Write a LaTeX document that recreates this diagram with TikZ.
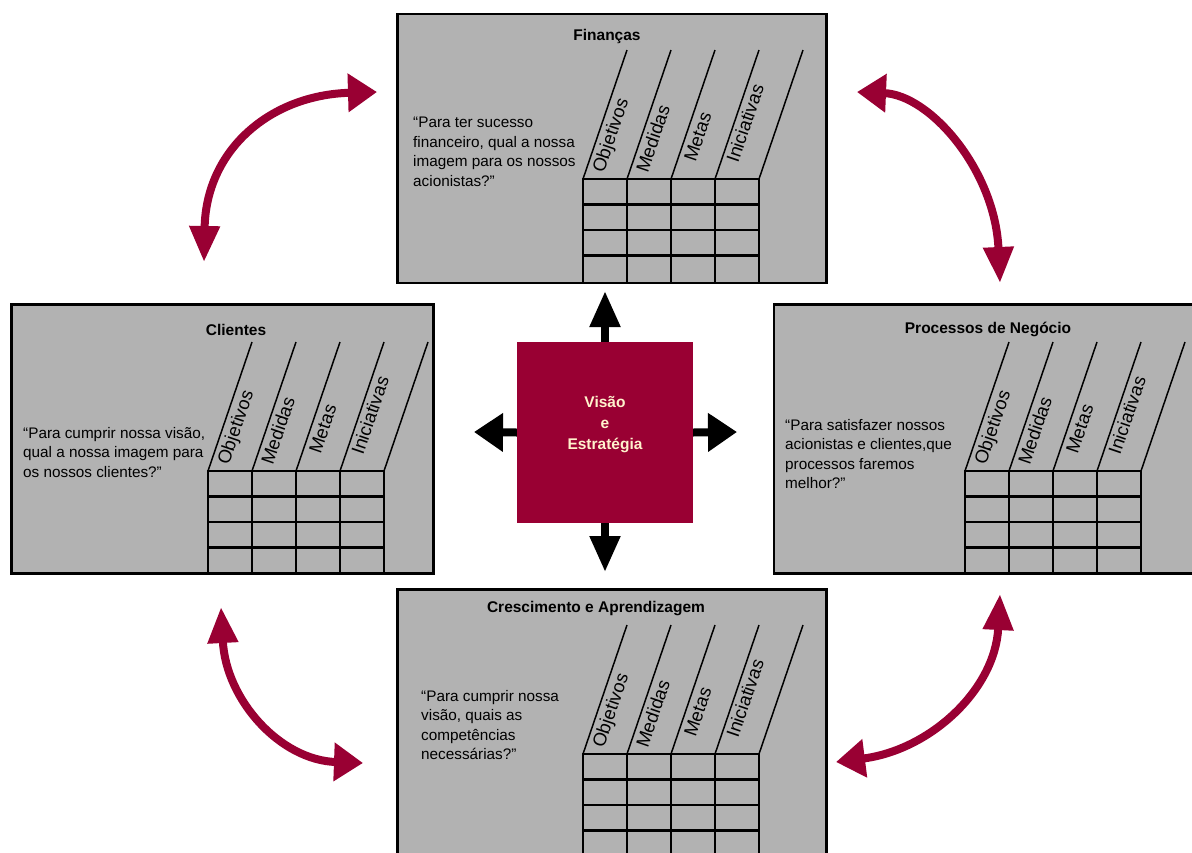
\documentclass[tikz,border=0pt]{standalone}
\usepackage{fontspec}
\setmainfont{Liberation Sans}
\usetikzlibrary{arrows.meta}

\definecolor{bscgray}{HTML}{B2B2B2}
\definecolor{bscred}{HTML}{990033}
\definecolor{bsccream}{HTML}{FFF2CC}

\tikzset{
  panelbox/.style={fill=bscgray, draw=black, line width=2.5pt, inner sep=0pt, anchor=north west},
  gridline/.style={draw=black, line width=2.2pt, line cap=rect},
  slantline/.style={draw=black, line width=1.5pt},
  colhead/.style={font=\fontsize{18.5}{21}\selectfont, inner sep=0pt, anchor=base west, rotate=71.17},
  paneltitle/.style={font=\fontsize{15.5}{18}\selectfont\bfseries, inner sep=0pt, anchor=base},
  question/.style={font=\fontsize{15.3}{19.5}\selectfont, inner sep=0pt, anchor=north west, align=left},
  hub/.style={fill=bscred, draw=none, minimum width=176pt, minimum height=181pt, inner sep=0pt},
  hubtext/.style={text=bsccream, font=\fontsize{15.5}{21}\selectfont\bfseries, align=center, inner sep=0pt},
  bscH/.tip={Triangle[length=29pt,width=37pt]},
  bscV/.tip={Triangle[length=36pt,width=29pt]},
  pushH/.style={draw=black, line width=8pt, -{bscH}},
  pushV/.style={draw=black, line width=8pt, -{bscV}},
  linkarc/.style={draw=bscred, line width=8pt},
  % measurement table with slanted column headings
  bscgrid/.pic={
    \foreach \r in {0,25.5,51,76.5} \draw[gridline] (0,\r) -- (176,\r);
    \foreach \c in {0,44,88,132,176} \draw[gridline] (\c,0) -- (\c,101.5);
    \foreach \c in {0,44,88,132,176} \draw[slantline] (\c,0) -- (\c+44,-129);
    \node[colhead] (-obj) at (20.7,-5) {Objetivos};
    \node[colhead] (-med) at (64.7,-5) {Medidas};
    \node[colhead] (-met) at (112.5,-16) {Metas};
    \node[colhead] (-ini) at (155.1,-15) {Iniciativas};
  }
}

\begin{document}
\begin{tikzpicture}[x=1pt, y=-1pt]
\useasboundingbox (0,0) rectangle (1192,852);
\clip (0,0) rectangle (1192,852);

% ---- four perspective panels ----
\node[panelbox, minimum width=429pt, minimum height=269pt] (fin) at (396,12.5) {};
\pic (fing) at (583,179) {bscgrid};
\node[paneltitle] (fin-title) at (607,40) {Finanças};
\node[question] (fin-q) at (413,117) {“Para ter sucesso\\financeiro, qual a nossa\\imagem para os nossos\\acionistas?”};

\node[panelbox, minimum width=422pt, minimum height=269pt] (cli) at (10,303) {};
\pic (clig) at (208,471) {bscgrid};
\node[paneltitle] (cli-title) at (236,335) {Clientes};
\node[question] (cli-q) at (23,427) {“Para cumprir nossa visão,\\qual a nossa imagem para\\os nossos clientes?”};

\node[panelbox, minimum width=427.5pt, minimum height=269pt] (pro) at (772.5,303) {};
\pic (prog) at (965,471) {bscgrid};
\node[paneltitle] (pro-title) at (988,333) {Processos de Negócio};
\node[question] (pro-q) at (785,419) {“Para satisfazer nossos\\acionistas e clientes,que\\processos faremos\\melhor?”};

\node[panelbox, minimum width=429pt, minimum height=282pt] (cre) at (396,588) {};
\pic (creg) at (583,754) {bscgrid};
\node[paneltitle] (cre-title) at (596,612) {Crescimento e Aprendizagem};
\node[question] (cre-q) at (421,690) {“Para cumprir nossa\\visão, quais as\\competências\\necessárias?”};

% ---- central hub ----
\node[hub] (hub) at (605,432.5) {};
\node[hubtext] (hub-text) at (605,424.4) {Visão\\e\\Estratégia};

\coordinate (tipN) at (605,291);
\coordinate (tipS) at (605,572);
\coordinate (tipW) at (474,432);
\coordinate (tipE) at (737,432);
\draw[pushV] (hub.north) -- (tipN);
\draw[pushV] (hub.south) -- (tipS);
\draw[pushH] (hub.west) -- (tipW);
\draw[pushH] (hub.east) -- (tipE);

% ---- cause-and-effect links between panels ----
\coordinate (cf1) at (204,262);  \coordinate (cf2) at (377,92);
\coordinate (fp1) at (857,92);   \coordinate (fp2) at (1000,283);
\coordinate (cc1) at (221,607);  \coordinate (cc2) at (363,763);
\coordinate (pc1) at (1000,594); \coordinate (pc2) at (836,762);
\draw[linkarc, {bscV}-{bscH}] (cf1) .. controls (206,150) and (270,95) .. (cf2);
\draw[linkarc, {bscH}-{bscV}] (fp1) .. controls (930,95) and (995,170) .. (fp2);
\draw[linkarc, {bscV}-{bscH}] (cc1) .. controls (226,700) and (280,760) .. (cc2);
\draw[linkarc, {bscV}-{bscH}] (pc1) .. controls (995,690) and (930,750) .. (pc2);
\end{tikzpicture}
\end{document}
